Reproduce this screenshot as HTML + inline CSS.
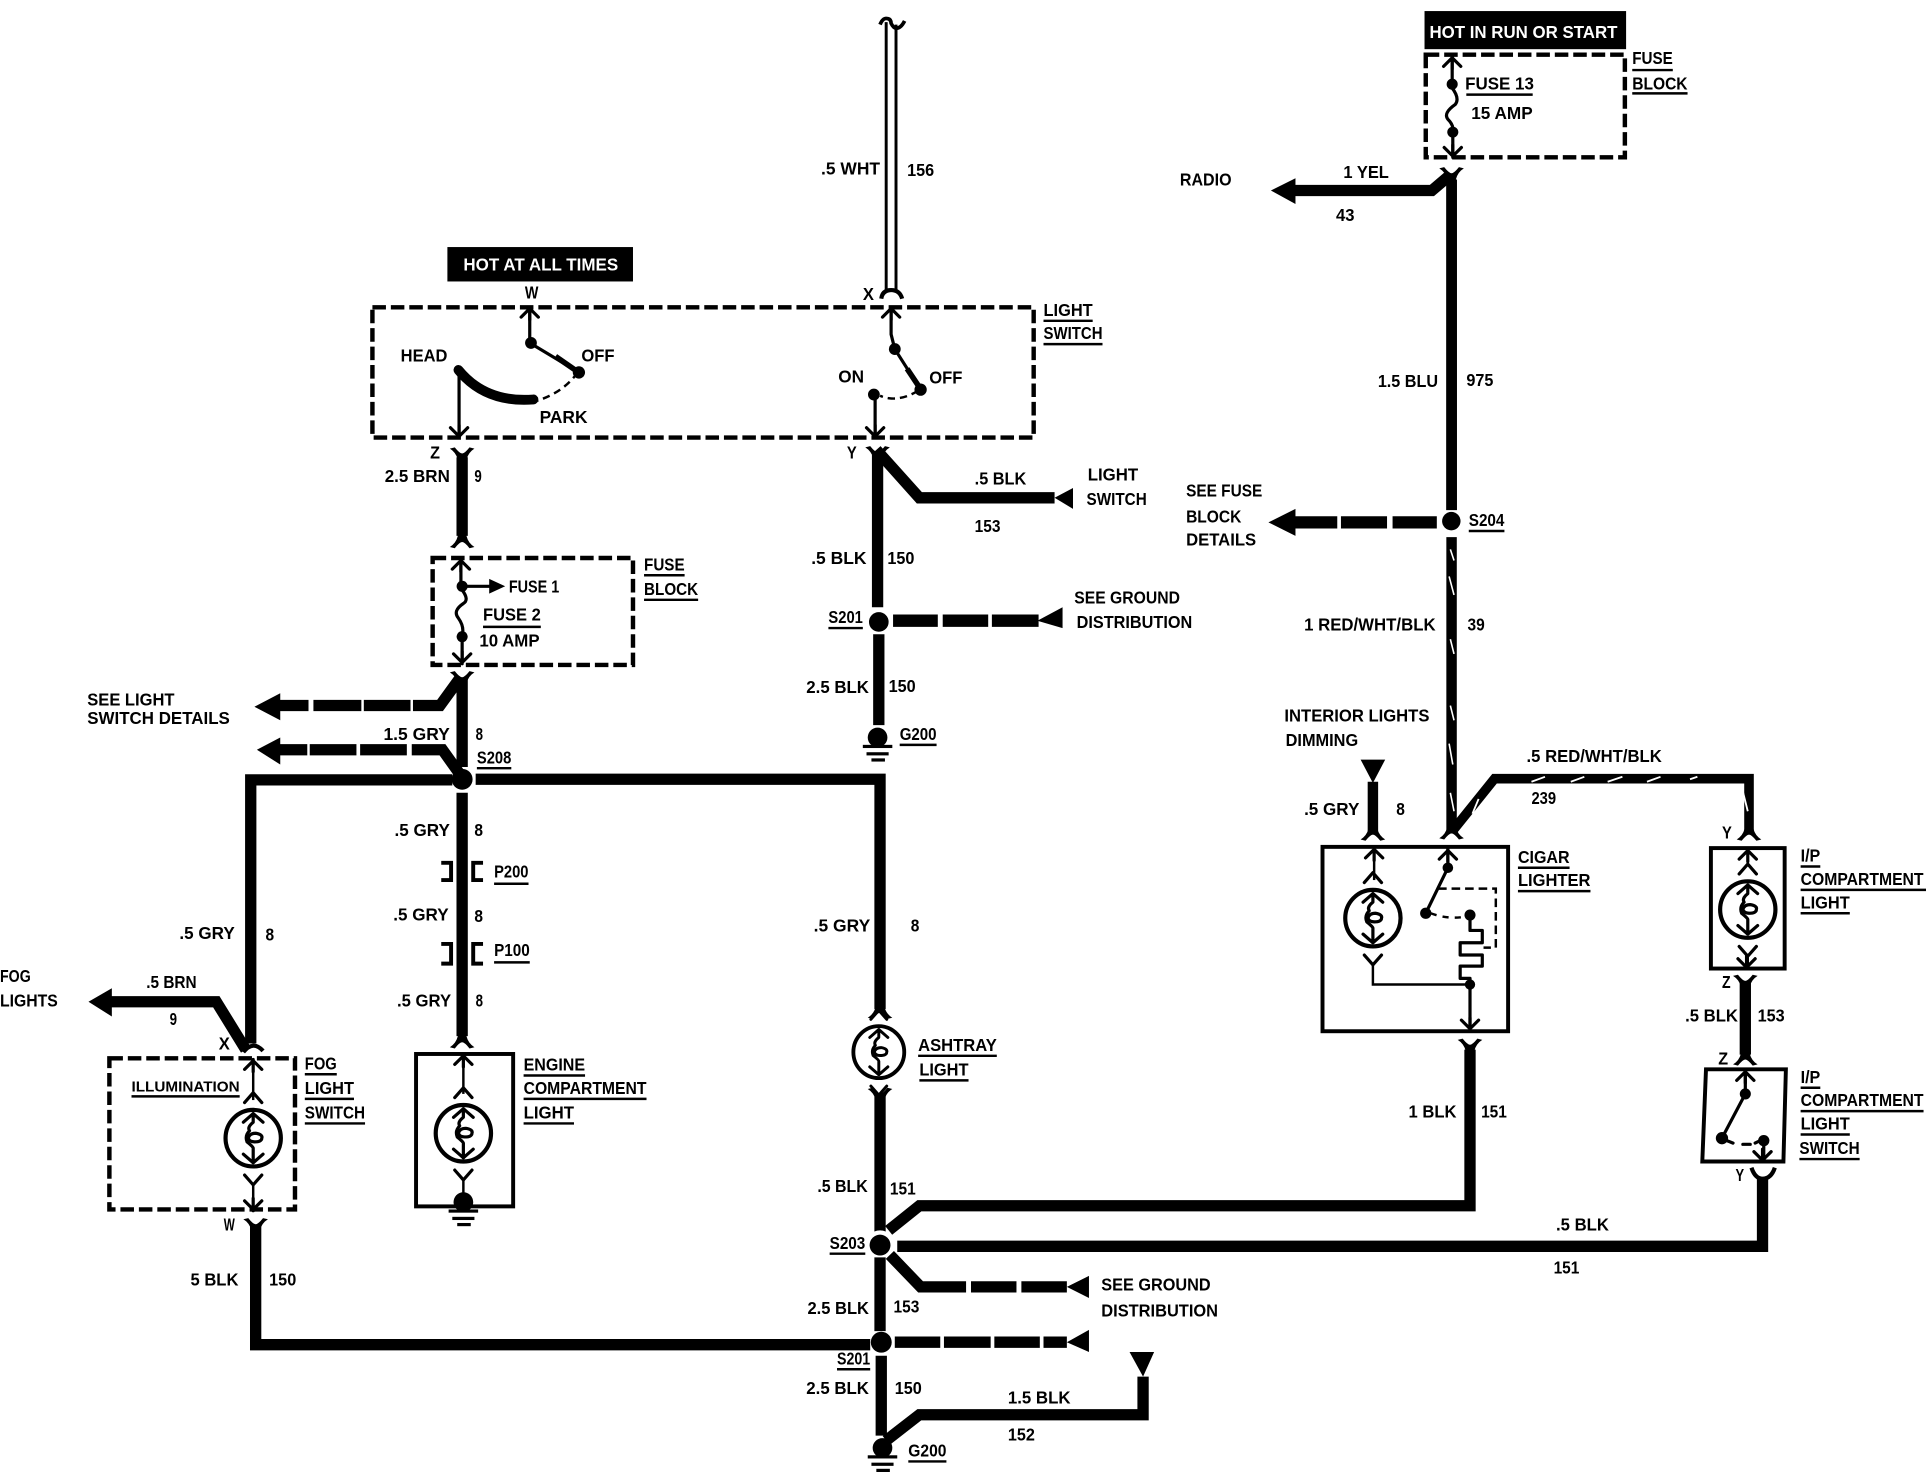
<!DOCTYPE html>
<html>
<head>
<meta charset="utf-8">
<style>
html,body{margin:0;padding:0;background:#fff;}
svg{display:block;}
text{font-family:"Liberation Sans",sans-serif;font-weight:bold;font-size:14px;fill:#000;}
.w{fill:#fff;}
.wire{fill:none;stroke:#000;stroke-width:9.2;stroke-linejoin:miter;}
.thin{fill:none;stroke:#000;stroke-width:2;}
.mid{fill:none;stroke:#000;stroke-width:2.6;stroke-linecap:round;stroke-linejoin:round;}
.dash{fill:none;stroke:#000;stroke-width:3.6;stroke-dasharray:11 4;}
.box{fill:none;stroke:#000;stroke-width:3.2;}
.ul{fill:none;stroke:#000;stroke-width:2;}
</style>
</head>
<body>
<svg xmlns="http://www.w3.org/2000/svg" width="1926" height="1472" viewBox="0 0 1567 1197.6" preserveAspectRatio="none">
<defs>
  <g id="fd"><path d="M-3.5 -10 L-3.5 -3 Q-5 3 -10 6 L-6 7 Q-2 2 0 2 Q2 2 6 7 L10 6 Q5 3 3.5 -3 L3.5 -10 Z" fill="#000"/></g>
  <g id="fu"><path d="M-3.5 10 L-3.5 3 Q-5 -3 -10 -6 L-6 -7 Q-2 -2 0 -2 Q2 -2 6 -7 L10 -6 Q5 -3 3.5 3 L3.5 10 Z" fill="#000"/></g>
  <g id="au"><path d="M-7 8 L0 1 L7 8 M0 0 L0 10" class="mid"/></g>
  <g id="ad"><path d="M-7 -8 L0 -1 L7 -8 M0 0 L0 -10" class="mid"/></g>
  <g id="bulb">
    <ellipse cx="0" cy="0" rx="22.5" ry="23" fill="#fff" stroke="#000" stroke-width="3.4"/>
    <path d="M-7 -29 L0 -37 L7 -29 M-7 30 L0 38 L7 30" class="mid"/>
    <path d="M-8 -13 L0 -20 L8 -13 M-8 13 L0 20 L8 13 M0 -20 L0 -13 Q-5 -9 -3 -6 Q-7 -2 -5 3 Q0 7 0 8 L0 20" class="mid"/>
    <path d="M-4 0 Q-3 -4 2 -4 Q8 -3 7 0 Q7 3 1 3 Q-3 3 -4 0" class="mid"/>
  </g>
  <g id="gnd">
    <circle cx="0" cy="0" r="8" fill="#000"/>
    <rect x="-12" y="6" width="24" height="2.6" fill="#000"/>
    <rect x="-9" y="12" width="18" height="2.6" fill="#000"/>
    <rect x="-5" y="17" width="11" height="2.6" fill="#000"/>
  </g>
</defs>

<rect width="1567" height="1197.6" fill="#fff"/>

<!-- Top white wire -->
<path d="M721 18 V236 M729 20 V236" fill="none" stroke="#000" stroke-width="2.4"/>
<path d="M716 20 Q718 15 721 15 Q725 15 725 19 Q727 23 729 23 Q733 23 736 17" fill="none" stroke="#000" stroke-width="3"/>
<path d="M717 243 Q718 236 725 236 Q732 236 734 243" fill="none" stroke="#000" stroke-width="3.4"/>

<!-- HOT AT ALL TIMES -->
<rect x="364" y="201" width="151" height="28" fill="#000"/>
<text class="w" x="377" y="220" textLength="126" lengthAdjust="spacingAndGlyphs">HOT AT ALL TIMES</text>

<!-- Light switch box -->
<rect x="303" y="250" width="538" height="106" class="dash"/>
<use href="#au" x="431" y="250"/>
<path d="M431 250 V279 L471 303" class="mid"/>
<path d="M452 290 L468 301" stroke="#000" stroke-width="4.5" fill="none"/>
<circle cx="432" cy="279" r="4.8"/><circle cx="471" cy="303" r="5"/>
<path d="M470 303 Q458 320 434 327" fill="none" stroke="#000" stroke-width="2" stroke-dasharray="6 4"/>
<path d="M373 301 Q395 328 434 325" fill="none" stroke="#000" stroke-width="8" stroke-linecap="round"/>
<path d="M373.500 301 V354" class="mid"/>
<use href="#ad" x="373.500" y="356"/>
<use href="#au" x="725" y="250"/>
<path d="M725 250 V272 L728 284 L749 317" class="mid"/>
<path d="M738 300 L748 315" stroke="#000" stroke-width="4.5" fill="none"/>
<circle cx="728" cy="284" r="4.8"/><circle cx="749" cy="317" r="5"/>
<path d="M747 318 Q730 328 716 322" fill="none" stroke="#000" stroke-width="2" stroke-dasharray="6 4"/>
<circle cx="711" cy="321" r="4.8"/>
<path d="M712 321 V354" class="mid"/>
<use href="#ad" x="712" y="356"/>

<!-- Z wire to fuse block -->
<path d="M376 372 V436" class="wire"/>
<use href="#fu" x="376" y="371"/>
<use href="#fd" x="376" y="439"/>

<!-- Fuse block left -->
<rect x="352" y="454" width="163" height="87" class="dash"/>
<use href="#au" x="375" y="455"/>
<path d="M375 455 V477 M376 477 H400" class="mid"/>
<circle cx="376" cy="477" r="4.5"/>
<path d="M398 471 L411 477 L398 483 Z" fill="#000"/>
<path d="M376 480 Q382 488 377 491 Q368 497 373 503 Q378 510 376 517" class="mid" />
<circle cx="376" cy="518" r="4.5"/>
<path d="M376 518 V538" class="mid"/>
<use href="#ad" x="376" y="540"/>

<!-- Main below fuse -->
<use href="#fu" x="376" y="553"/>
<path d="M376 552 V624" class="wire"/>
<path d="M374 552 L358 574 H336" class="wire"/>
<path d="M334 574 H296 M294 574 H255 M251 574 H227" class="wire" />
<path d="M207 575 L228 564 V586 Z" fill="#000"/>
<path d="M375 631 L360 610 H335" class="wire"/>
<path d="M331 610 H293 M290 610 H252 M250 610 H227" class="wire"/>
<path d="M209 610 L228 600 V622 Z" fill="#000"/>
<path d="M204 849 V634.500 H368" class="wire"/>
<path d="M387 634 H716 V821" class="wire"/>
<circle cx="376" cy="634" r="8.500"/>
<path d="M376 645 V843" class="wire"/>
<use href="#fd" x="376" y="846"/>

<!-- P200 / P100 brackets -->
<path d="M359 702 H367 V716 H359 M393 702 H385 V716 H393" class="box"/>
<path d="M359 768 H367 V784 H359 M393 768 H385 V784 H393" class="box"/>

<!-- Fog lights -->
<path d="M88 815 H176 L200 854" class="wire"/>
<path d="M72 815 L91 804 V827 Z" fill="#000"/>
<path d="M198 856 Q206 846 214 855" fill="none" stroke="#000" stroke-width="3.4"/>
<rect x="89" y="861" width="151" height="123" class="dash"/>
<use href="#au" x="206" y="862"/>
<path d="M206 862 V895" class="thin"/>
<use href="#bulb" x="206" y="926"/>
<path d="M206 964 V982" class="thin"/>
<use href="#ad" x="206" y="985"/>
<use href="#fu" x="208" y="998"/>
<path d="M208 997 V1094 H708" class="wire"/>

<!-- Engine light -->
<rect x="338.500" y="857.500" width="79" height="124" class="box"/>
<use href="#au" x="377" y="858"/>
<path d="M377 858 V890" class="thin"/>
<use href="#bulb" x="377" y="922"/>
<path d="M377 960 V975" class="thin"/>
<use href="#gnd" x="377" y="978"/>

<!-- Y wire -->
<use href="#fu" x="714" y="370"/>
<path d="M714 370 V494" class="wire"/>
<path d="M713 366 L748 405 H858" class="wire"/>
<path d="M858 405 L873 397 V414 Z" fill="#000"/>
<circle cx="715" cy="506" r="8"/>
<path d="M726.600 505 H763 M767 505 H804 M807 505 H845" class="wire" style="stroke-width:10"/>
<path d="M844 505 L864.500 494 V511 Z" fill="#000"/>
<path d="M715 516 V590" class="wire"/>
<use href="#gnd" x="714" y="600"/>

<!-- Ashtray -->
<use href="#fd" x="716" y="822"/>
<g transform="translate(715,856) scale(0.92)"><use href="#bulb"/></g>
<use href="#fu" x="716" y="892"/>
<path d="M716 891 V1003" class="wire"/>

<!-- S203 and branches -->
<circle cx="716" cy="1013" r="12" fill="#fff"/>
<circle cx="716" cy="1013" r="8.500"/>
<path d="M723 1001 L748 981 H1196 V854" class="wire"/>
<path d="M730 1014 H1434 V958" class="wire"/>
<path d="M724 1021 L749 1047 H786 M790 1047 H827 M831 1047 H868" class="wire"/>
<path d="M868 1047 L886 1038 V1056 Z" fill="#000"/>
<path d="M716 1023 V1083" class="wire"/>
<circle cx="717" cy="1092" r="8.500"/>
<path d="M728 1092 H765 M768 1092 H806 M809 1092 H846 M849 1092 H868" class="wire"/>
<path d="M868 1092 L886 1082 V1100 Z" fill="#000"/>
<path d="M717 1103 V1168" class="wire"/>
<path d="M721 1172 L748 1151 H930 V1120" class="wire"/>
<path d="M919 1100 H939 L930 1120 Z" fill="#000"/>
<use href="#gnd" x="718" y="1178"/>

<!-- Hot in run -->
<rect x="1159" y="9" width="164" height="31" fill="#000"/>
<text class="w" x="1163" y="31" textLength="153" lengthAdjust="spacingAndGlyphs">HOT IN RUN OR START</text>
<rect x="1160" y="44.500" width="162" height="83.500" class="dash"/>
<use href="#au" x="1181.500" y="46"/>
<path d="M1181.500 46 V68" class="mid"/>
<circle cx="1181.500" cy="68.500" r="4.500"/>
<path d="M1181 71 Q1188 80 1184 85 Q1174 92 1178 97 Q1183 102 1182 107" class="mid"/>
<circle cx="1182" cy="107.500" r="4.500"/>
<path d="M1182 107 V126" class="mid"/>
<use href="#ad" x="1182" y="128"/>

<path d="M1181 146 V415" class="wire" style="stroke-width:8.800"/>
<use href="#fu" x="1181" y="143"/>
<path d="M1178 144 L1165 155 H1052" class="wire"/>
<path d="M1034 155 L1054 145 V166 Z" fill="#000"/>
<circle cx="1180.800" cy="424" r="7.500"/>
<path d="M1052 425 H1088 M1091 425 H1128.500 M1133 425 H1169" class="wire" style="stroke-width:10"/>
<path d="M1032 425 L1054 414 V436 Z" fill="#000"/>

<!-- striped wire -->
<path d="M1181 437 V678" class="wire" style="stroke-width:8.500"/>
<path d="M1180 447 L1183 456 M1179 469 L1183 484 M1180 520 L1183 532 M1180 574 L1183 586 M1179 605 L1182 622 M1180 645 L1183 660" stroke="#fff" stroke-width="1.300" fill="none"/>
<path d="M1181 677 L1216 633.500 H1423 V678" class="wire" style="stroke-width:7.800"/>
<path d="M1246 636 L1257 632 M1278 636 L1289 632 M1308 636 L1320 632 M1340 636 L1351 632 M1375 634 L1381 632 M1418 644 L1422 660 M1198 662 L1203 650" stroke="#fff" stroke-width="1.500" fill="none"/>
<use href="#fd" x="1181" y="676"/>
<use href="#fd" x="1423" y="677"/>

<!-- Dimming -->
<path d="M1107 618 H1127 L1117 637 Z" fill="#000"/>
<path d="M1117 636 V678" class="wire" style="stroke-width:8.500"/>
<use href="#fd" x="1117" y="677"/>

<!-- Cigar lighter -->
<rect x="1076" y="689" width="151" height="150" class="box"/>
<use href="#au" x="1118" y="690"/>
<path d="M1118 690 V716" class="thin"/>
<use href="#bulb" x="1117" y="747"/>
<path d="M1117 784 V801 H1196" class="thin"/>
<circle cx="1196" cy="801" r="4.200"/>
<use href="#au" x="1178" y="691"/>
<path d="M1178 691 V706 L1160 743" class="mid"/>
<circle cx="1178" cy="706" r="4.300"/><circle cx="1160" cy="743" r="4.600"/>
<path d="M1164 743 Q1180 749 1196 745" fill="none" stroke="#000" stroke-width="2" stroke-dasharray="5 5"/>
<circle cx="1196" cy="744.500" r="4.500"/>
<path d="M1170 723 H1217 V771 H1207" fill="none" stroke="#000" stroke-width="2" stroke-dasharray="7 4"/>
<path d="M1196 745 V757 H1206 V767 H1188 V777 H1206 V786 H1188 V796 H1196 V836" class="mid"/>
<use href="#ad" x="1196" y="838"/>
<use href="#fu" x="1196" y="852"/>

<!-- IP compartment light -->
<rect x="1392" y="690" width="60" height="98" class="box"/>
<use href="#au" x="1422" y="691"/>
<use href="#bulb" x="1422" y="740"/>
<path d="M1422 776 V786" class="thin"/>
<use href="#ad" x="1421" y="788"/>
<use href="#fu" x="1420" y="800"/>
<path d="M1420 799 V858" class="wire"/>
<use href="#fd" x="1420" y="860"/>

<!-- IP switch -->
<path d="M1388 870 H1453 L1451 945 H1385 Z" class="box"/>
<use href="#au" x="1420" y="871"/>
<path d="M1420 871 V890 L1401 926" class="mid"/>
<circle cx="1420" cy="890" r="4.500"/><circle cx="1401" cy="926" r="5"/>
<path d="M1405 928 L1410 930 M1418 931 L1424 931 M1428 930 L1432 928" class="mid"/>
<circle cx="1435" cy="928" r="4.600"/>
<path d="M1435 928 V943" class="mid"/>
<use href="#ad" x="1434" y="945"/>
<path d="M1425 950 Q1428 959 1434 959 Q1441 959 1444 950" fill="none" stroke="#000" stroke-width="3.400"/>

<!-- Underlines -->
<path class="ul" d="M849 261 H889 M849 280 H897 M674 511 H702 M732 606 H762 M524 468 H557 M524 488 H568 M393 510 H440 M388 625 H416 M402 719 H430 M402 783 H431 M107 892 H195 M248 874 H274 M248 894 H288 M248 914 H297 M426 875 H476 M426 894 H526 M426 914 H467 M747 859 H811 M748 879 H788 M675 1020 H704 M681 1114 H708 M739 1189 H770 M1328 57 H1361 M1328 76 H1373 M1193 77 H1247 M1195 432 H1224 M1235 706 H1277 M1235 725 H1294 M1465 705 H1481 M1465 724 H1567 M1465 743 H1505 M1465 885 H1481 M1465 904 H1565 M1465 923 H1505 M1464 943 H1513"/>

<!-- Labels -->
<text x="427" y="243" textLength="11" lengthAdjust="spacingAndGlyphs">W</text>
<text x="702" y="244" textLength="9" lengthAdjust="spacingAndGlyphs">X</text>
<text x="668" y="142" textLength="48" lengthAdjust="spacingAndGlyphs">.5 WHT</text>
<text x="738" y="143" textLength="22" lengthAdjust="spacingAndGlyphs">156</text>
<text x="849" y="257" textLength="40" lengthAdjust="spacingAndGlyphs">LIGHT</text>
<text x="849" y="276" textLength="48" lengthAdjust="spacingAndGlyphs">SWITCH</text>
<text x="326" y="294" textLength="38" lengthAdjust="spacingAndGlyphs">HEAD</text>
<text x="473" y="294" textLength="27" lengthAdjust="spacingAndGlyphs">OFF</text>
<text x="439" y="344" textLength="39" lengthAdjust="spacingAndGlyphs">PARK</text>
<text x="682" y="311" textLength="21" lengthAdjust="spacingAndGlyphs">ON</text>
<text x="756" y="312" textLength="27" lengthAdjust="spacingAndGlyphs">OFF</text>
<text x="350" y="373" textLength="8" lengthAdjust="spacingAndGlyphs">Z</text>
<text x="689" y="373" textLength="8" lengthAdjust="spacingAndGlyphs">Y</text>
<text x="313" y="392" textLength="53" lengthAdjust="spacingAndGlyphs">2.5 BRN</text>
<text x="386" y="392" textLength="6" lengthAdjust="spacingAndGlyphs">9</text>
<text x="793" y="394" textLength="42" lengthAdjust="spacingAndGlyphs">.5 BLK</text>
<text x="793" y="433" textLength="21" lengthAdjust="spacingAndGlyphs">153</text>
<text x="885" y="391" textLength="41" lengthAdjust="spacingAndGlyphs">LIGHT</text>
<text x="884" y="411" textLength="49" lengthAdjust="spacingAndGlyphs">SWITCH</text>
<text x="660" y="459" textLength="45" lengthAdjust="spacingAndGlyphs">.5 BLK</text>
<text x="722" y="459" textLength="22" lengthAdjust="spacingAndGlyphs">150</text>
<text x="674" y="507" textLength="28" lengthAdjust="spacingAndGlyphs">S201</text>
<text x="874" y="491" textLength="86" lengthAdjust="spacingAndGlyphs">SEE GROUND</text>
<text x="876" y="511" textLength="94" lengthAdjust="spacingAndGlyphs">DISTRIBUTION</text>
<text x="656" y="564" textLength="51" lengthAdjust="spacingAndGlyphs">2.5 BLK</text>
<text x="723" y="563" textLength="22" lengthAdjust="spacingAndGlyphs">150</text>
<text x="732" y="602" textLength="30" lengthAdjust="spacingAndGlyphs">G200</text>
<text x="524" y="464" textLength="33" lengthAdjust="spacingAndGlyphs">FUSE</text>
<text x="524" y="484" textLength="44" lengthAdjust="spacingAndGlyphs">BLOCK</text>
<text x="414" y="482" textLength="41" lengthAdjust="spacingAndGlyphs">FUSE 1</text>
<text x="393" y="505" textLength="47" lengthAdjust="spacingAndGlyphs">FUSE 2</text>
<text x="390" y="526" textLength="49" lengthAdjust="spacingAndGlyphs">10 AMP</text>
<text x="71" y="574" textLength="71" lengthAdjust="spacingAndGlyphs">SEE LIGHT</text>
<text x="71" y="589" textLength="116" lengthAdjust="spacingAndGlyphs">SWITCH DETAILS</text>
<text x="312" y="602" textLength="54" lengthAdjust="spacingAndGlyphs">1.5 GRY</text>
<text x="387" y="602" textLength="6" lengthAdjust="spacingAndGlyphs">8</text>
<text x="388" y="621" textLength="28" lengthAdjust="spacingAndGlyphs">S208</text>
<text x="321" y="680" textLength="45" lengthAdjust="spacingAndGlyphs">.5 GRY</text>
<text x="386" y="680" textLength="7" lengthAdjust="spacingAndGlyphs">8</text>
<text x="402" y="714" textLength="28" lengthAdjust="spacingAndGlyphs">P200</text>
<text x="320" y="749" textLength="45" lengthAdjust="spacingAndGlyphs">.5 GRY</text>
<text x="386" y="750" textLength="7" lengthAdjust="spacingAndGlyphs">8</text>
<text x="402" y="778" textLength="29" lengthAdjust="spacingAndGlyphs">P100</text>
<text x="323" y="819" textLength="44" lengthAdjust="spacingAndGlyphs">.5 GRY</text>
<text x="387" y="819" textLength="6" lengthAdjust="spacingAndGlyphs">8</text>
<text x="146" y="764" textLength="45" lengthAdjust="spacingAndGlyphs">.5 GRY</text>
<text x="216" y="765" textLength="7" lengthAdjust="spacingAndGlyphs">8</text>
<text x="0" y="799" textLength="25" lengthAdjust="spacingAndGlyphs">FOG</text>
<text x="0" y="819" textLength="47" lengthAdjust="spacingAndGlyphs">LIGHTS</text>
<text x="119" y="804" textLength="41" lengthAdjust="spacingAndGlyphs">.5 BRN</text>
<text x="138" y="834" textLength="6" lengthAdjust="spacingAndGlyphs">9</text>
<text x="178" y="854" textLength="9" lengthAdjust="spacingAndGlyphs">X</text>
<text x="107" y="888" textLength="88" lengthAdjust="spacingAndGlyphs" style="font-size:12px">ILLUMINATION</text>
<text x="248" y="870" textLength="26" lengthAdjust="spacingAndGlyphs">FOG</text>
<text x="248" y="890" textLength="40" lengthAdjust="spacingAndGlyphs">LIGHT</text>
<text x="248" y="910" textLength="49" lengthAdjust="spacingAndGlyphs">SWITCH</text>
<text x="426" y="871" textLength="50" lengthAdjust="spacingAndGlyphs">ENGINE</text>
<text x="426" y="890" textLength="100" lengthAdjust="spacingAndGlyphs">COMPARTMENT</text>
<text x="426" y="910" textLength="41" lengthAdjust="spacingAndGlyphs">LIGHT</text>
<text x="182" y="1001" textLength="9" lengthAdjust="spacingAndGlyphs">W</text>
<text x="155" y="1046" textLength="39" lengthAdjust="spacingAndGlyphs">5 BLK</text>
<text x="219" y="1046" textLength="22" lengthAdjust="spacingAndGlyphs">150</text>
<text x="662" y="758" textLength="46" lengthAdjust="spacingAndGlyphs">.5 GRY</text>
<text x="741" y="758" textLength="7" lengthAdjust="spacingAndGlyphs">8</text>
<text x="747" y="855" textLength="64" lengthAdjust="spacingAndGlyphs">ASHTRAY</text>
<text x="748" y="875" textLength="40" lengthAdjust="spacingAndGlyphs">LIGHT</text>
<text x="665" y="970" textLength="41" lengthAdjust="spacingAndGlyphs">.5 BLK</text>
<text x="724" y="972" textLength="21" lengthAdjust="spacingAndGlyphs">151</text>
<text x="675" y="1016" textLength="29" lengthAdjust="spacingAndGlyphs">S203</text>
<text x="896" y="1050" textLength="89" lengthAdjust="spacingAndGlyphs">SEE GROUND</text>
<text x="896" y="1071" textLength="95" lengthAdjust="spacingAndGlyphs">DISTRIBUTION</text>
<text x="657" y="1069" textLength="50" lengthAdjust="spacingAndGlyphs">2.5 BLK</text>
<text x="727" y="1068" textLength="21" lengthAdjust="spacingAndGlyphs">153</text>
<text x="681" y="1110" textLength="27" lengthAdjust="spacingAndGlyphs">S201</text>
<text x="656" y="1134" textLength="51" lengthAdjust="spacingAndGlyphs">2.5 BLK</text>
<text x="728" y="1134" textLength="22" lengthAdjust="spacingAndGlyphs">150</text>
<text x="820" y="1142" textLength="51" lengthAdjust="spacingAndGlyphs">1.5 BLK</text>
<text x="820" y="1172" textLength="22" lengthAdjust="spacingAndGlyphs">152</text>
<text x="739" y="1185" textLength="31" lengthAdjust="spacingAndGlyphs">G200</text>
<text x="1266" y="1001" textLength="43" lengthAdjust="spacingAndGlyphs">.5 BLK</text>
<text x="1264" y="1036" textLength="21" lengthAdjust="spacingAndGlyphs">151</text>
<text x="1146" y="909" textLength="39" lengthAdjust="spacingAndGlyphs">1 BLK</text>
<text x="1205" y="909" textLength="21" lengthAdjust="spacingAndGlyphs">151</text>
<text x="1328" y="52" textLength="33" lengthAdjust="spacingAndGlyphs">FUSE</text>
<text x="1328" y="73" textLength="45" lengthAdjust="spacingAndGlyphs">BLOCK</text>
<text x="1192" y="73" textLength="56" lengthAdjust="spacingAndGlyphs">FUSE 13</text>
<text x="1197" y="97" textLength="50" lengthAdjust="spacingAndGlyphs">15 AMP</text>
<text x="960" y="151" textLength="42" lengthAdjust="spacingAndGlyphs">RADIO</text>
<text x="1093" y="145" textLength="37" lengthAdjust="spacingAndGlyphs">1 YEL</text>
<text x="1087" y="180" textLength="15" lengthAdjust="spacingAndGlyphs">43</text>
<text x="1121" y="315" textLength="49" lengthAdjust="spacingAndGlyphs">1.5 BLU</text>
<text x="1193" y="314" textLength="22" lengthAdjust="spacingAndGlyphs">975</text>
<text x="965" y="404" textLength="62" lengthAdjust="spacingAndGlyphs">SEE FUSE</text>
<text x="965" y="425" textLength="45" lengthAdjust="spacingAndGlyphs">BLOCK</text>
<text x="965" y="444" textLength="57" lengthAdjust="spacingAndGlyphs">DETAILS</text>
<text x="1195" y="428" textLength="29" lengthAdjust="spacingAndGlyphs">S204</text>
<text x="1061" y="513" textLength="107" lengthAdjust="spacingAndGlyphs">1 RED/WHT/BLK</text>
<text x="1194" y="513" textLength="14" lengthAdjust="spacingAndGlyphs">39</text>
<text x="1045" y="587" textLength="118" lengthAdjust="spacingAndGlyphs">INTERIOR LIGHTS</text>
<text x="1046" y="607" textLength="59" lengthAdjust="spacingAndGlyphs">DIMMING</text>
<text x="1061" y="663" textLength="45" lengthAdjust="spacingAndGlyphs">.5 GRY</text>
<text x="1136" y="663" textLength="7" lengthAdjust="spacingAndGlyphs">8</text>
<text x="1242" y="620" textLength="110" lengthAdjust="spacingAndGlyphs">.5 RED/WHT/BLK</text>
<text x="1246" y="654" textLength="20" lengthAdjust="spacingAndGlyphs">239</text>
<text x="1401" y="682" textLength="8" lengthAdjust="spacingAndGlyphs">Y</text>
<text x="1235" y="702" textLength="42" lengthAdjust="spacingAndGlyphs">CIGAR</text>
<text x="1235" y="721" textLength="59" lengthAdjust="spacingAndGlyphs">LIGHTER</text>
<text x="1465" y="701" textLength="16" lengthAdjust="spacingAndGlyphs">I/P</text>
<text x="1465" y="720" textLength="100" lengthAdjust="spacingAndGlyphs">COMPARTMENT</text>
<text x="1465" y="739" textLength="40" lengthAdjust="spacingAndGlyphs">LIGHT</text>
<text x="1401" y="804" textLength="7" lengthAdjust="spacingAndGlyphs">Z</text>
<text x="1371" y="831" textLength="43" lengthAdjust="spacingAndGlyphs">.5 BLK</text>
<text x="1430" y="831" textLength="22" lengthAdjust="spacingAndGlyphs">153</text>
<text x="1398" y="866" textLength="8" lengthAdjust="spacingAndGlyphs">Z</text>
<text x="1465" y="881" textLength="16" lengthAdjust="spacingAndGlyphs">I/P</text>
<text x="1465" y="900" textLength="100" lengthAdjust="spacingAndGlyphs">COMPARTMENT</text>
<text x="1465" y="919" textLength="40" lengthAdjust="spacingAndGlyphs">LIGHT</text>
<text x="1464" y="939" textLength="49" lengthAdjust="spacingAndGlyphs">SWITCH</text>
<text x="1412" y="961" textLength="7" lengthAdjust="spacingAndGlyphs">Y</text>
</svg>
</body>
</html>
